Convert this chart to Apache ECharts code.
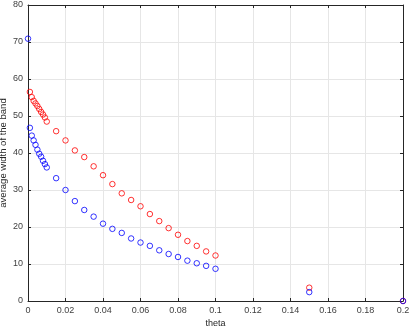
<!DOCTYPE html>
<html>
<head>
<meta charset="utf-8">
<script src="https://cdn.jsdelivr.net/npm/echarts@6/dist/echarts.min.js"></script>
<style>
  html, body { margin: 0; padding: 0; background: #fff; }
  #chart { width: 412px; height: 327px; }
</style>
</head>
<body>
<div id="chart"></div>
<script>
  // values
  const thetaRed = [0.001, 0.002, 0.003, 0.004, 0.005, 0.006, 0.007, 0.008, 0.009, 0.01,
    0.015, 0.02, 0.025, 0.03, 0.035, 0.04, 0.045, 0.05, 0.055, 0.06, 0.065, 0.07, 0.075,
    0.08, 0.085, 0.09, 0.095, 0.1, 0.15, 0.2];
  const widthRed = [56.5, 55.1, 54.1, 53.4, 52.7, 51.9, 51.1, 50.4, 49.6, 48.5,
    45.9, 43.4, 40.7, 38.9, 36.4, 34.0, 31.6, 29.1, 27.3, 25.6, 23.5, 21.6, 19.7,
    17.9, 16.2, 14.9, 13.4, 12.3, 3.6, 0];

  const thetaBlue = [0, 0.001, 0.002, 0.003, 0.004, 0.005, 0.006, 0.007, 0.008, 0.009, 0.01,
    0.015, 0.02, 0.025, 0.03, 0.035, 0.04, 0.045, 0.05, 0.055, 0.06, 0.065, 0.07, 0.075,
    0.08, 0.085, 0.09, 0.095, 0.1, 0.15, 0.2];
  const widthBlue = [70.9, 46.8, 44.7, 43.4, 42.2, 40.9, 39.8, 39.0, 37.9, 37.0, 36.1,
    33.2, 30.0, 27.0, 24.6, 22.8, 20.9, 19.5, 18.4, 16.9, 15.8, 14.9, 13.7, 12.7,
    11.9, 10.9, 10.2, 9.5, 8.7, 2.4, 0];

  const font = "'Liberation Sans', Arial, sans-serif";
  const axisColor = "#262626";

  const pairs = (xs, ys) => xs.map((x, i) => [x, ys[i]]);

  const chart = echarts.init(document.getElementById("chart"), null, { renderer: "canvas" });

  const baseX = {
    type: "value",
    min: 0,
    max: 0.2,
    interval: 0.02,
    axisLine: { show: true, onZero: false, lineStyle: { color: axisColor, width: 1 } },
    axisTick: { show: true, inside: true, length: 3, lineStyle: { color: axisColor } },
    splitLine: { show: false }
  };
  const baseY = {
    type: "value",
    min: 0,
    max: 80,
    interval: 10,
    axisLine: { show: true, onZero: false, lineStyle: { color: axisColor, width: 1 } },
    axisTick: { show: true, inside: true, length: 3, lineStyle: { color: axisColor } },
    splitLine: { show: false }
  };

  chart.setOption({
    animation: false,
    textStyle: { fontFamily: font },
    grid: { left: 28, right: 9, top: 5, bottom: 26, containLabel: false, outerBoundsMode: "none" },
    xAxis: [
      Object.assign({}, baseX, {
        position: "bottom",
        name: "theta",
        nameLocation: "middle",
        nameGap: 18,
        nameMoveOverlap: false,
        nameTextStyle: { fontSize: 9, color: "#262626", fontFamily: font },
        axisLabel: {
          fontSize: 9,
          color: "#404040",
          margin: 5,
          fontFamily: font,
          formatter: (v) => (v === 0 ? "0" : String(+v.toFixed(2)))
        },
        splitLine: { show: true, lineStyle: { color: "#e6e6e6", width: 1 } }
      }),
      Object.assign({}, baseX, { position: "top", axisLabel: { show: false } })
    ],
    yAxis: [
      Object.assign({}, baseY, {
        position: "left",
        name: "average width of the band",
        nameLocation: "middle",
        nameRotate: 90,
        nameGap: 20,
        nameMoveOverlap: false,
        nameTextStyle: { fontSize: 9.5, color: "#262626", fontFamily: font },
        axisLabel: { fontSize: 9, color: "#404040", margin: 5, fontFamily: font },
        splitLine: { show: true, lineStyle: { color: "#e6e6e6", width: 1 } }
      }),
      Object.assign({}, baseY, { position: "right", axisLabel: { show: false } })
    ],
    series: [
      {
        type: "scatter",
        name: "red",
        data: pairs(thetaRed, widthRed),
        symbol: "circle",
        symbolSize: 5.5,
        itemStyle: { color: "rgba(0,0,0,0)", borderColor: "#ff0000", borderWidth: 1 }
      },
      {
        type: "scatter",
        name: "blue",
        data: pairs(thetaBlue, widthBlue),
        symbol: "circle",
        symbolSize: 5.5,
        itemStyle: { color: "rgba(0,0,0,0)", borderColor: "#0000ff", borderWidth: 1 }
      }
    ]
  });
</script>
</body>
</html>
